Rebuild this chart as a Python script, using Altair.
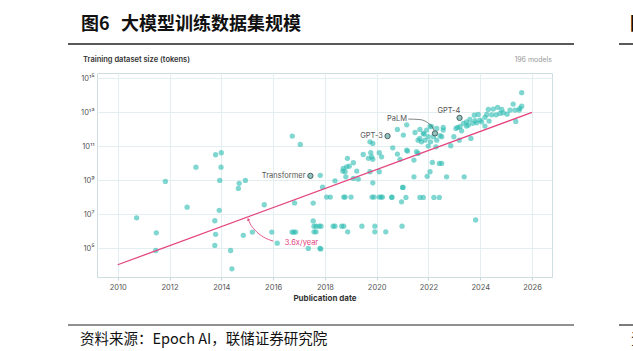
import altair as alt
import pandas as pd

# ---------------- data ----------------
title_num = "图6"
title_text = "大模型训练数据集规模"
source_text = "资料来源：Epoch AI，联储证券研究院"
y_title = "Training dataset size (tokens)"
count_text = "196 models"
x_title = "Publication date"

year_ticks = [2010, 2012, 2014, 2016, 2018, 2020, 2022, 2024, 2026]
exp_ticks = [5, 7, 9, 11, 13, 15]

# publication year (decimal) and log10(training tokens)
model_year = [
    2010.73, 2011.47, 2011.49, 2011.84, 2012.68, 2013.02, 2013.75, 2013.75, 2013.78, 2013.78,
    2013.92, 2013.94, 2013.99, 2014.00, 2014.36, 2014.41, 2014.66, 2014.69, 2014.85, 2014.93,
    2015.20, 2015.66, 2015.95, 2016.16, 2016.73, 2016.80, 2016.87, 2016.74, 2016.83, 2017.05,
    2017.82, 2017.36, 2017.81, 2017.84, 2017.55, 2017.55, 2017.58, 2017.66, 2017.78, 2017.85,
    2017.58, 2017.66, 2017.91, 2018.07, 2018.21, 2018.32, 2018.39, 2018.39, 2018.65, 2018.73,
    2018.73, 2018.78, 2018.69, 2018.78, 2018.84, 2018.81, 2018.87, 2018.88, 2018.94, 2019.01,
    2019.10, 2019.23, 2019.29, 2019.43, 2019.48, 2019.68, 2019.74, 2019.74, 2019.77, 2019.81,
    2019.82, 2019.85, 2019.85, 2019.85, 2019.90, 2019.93, 2019.93, 2020.10, 2020.10, 2020.10,
    2020.17, 2020.22, 2020.19, 2020.35, 2020.58, 2020.62, 2020.80, 2020.80, 2020.90, 2020.96,
    2020.98, 2021.00, 2021.02, 2021.03, 2021.13, 2021.16, 2021.16, 2021.44, 2021.44, 2021.48,
    2021.54, 2021.60, 2021.60, 2021.67, 2021.67, 2021.67, 2021.73, 2021.80, 2021.80, 2021.83,
    2021.87, 2021.93, 2021.95, 2021.99, 2021.99, 2022.06, 2022.06, 2022.08, 2022.12, 2022.15,
    2022.19, 2022.21, 2022.29, 2022.32, 2022.32, 2022.42, 2022.42, 2022.51, 2022.51, 2022.57,
    2022.57, 2022.70, 2022.86, 2022.98, 2023.06, 2023.13, 2023.19, 2023.22, 2023.28, 2023.35,
    2023.38, 2023.47, 2023.47, 2023.54, 2023.60, 2023.64, 2023.71, 2023.77, 2023.80, 2023.82,
    2023.86, 2023.92, 2023.99, 2024.05, 2024.18, 2024.18, 2024.25, 2024.31, 2024.34, 2024.44,
    2024.50, 2024.61, 2024.67, 2024.76, 2024.83, 2024.89, 2025.04, 2025.15, 2025.27, 2025.34,
    2025.37, 2025.50, 2025.53, 2025.60, 2025.60, 2018.71, 2019.10, 2020.59, 2021.19, 2022.45,
]
model_exp = [
    6.78, 4.86, 5.90, 8.92, 7.41, 9.76, 6.61, 5.16, 5.81, 10.49,
    7.22, 8.98, 9.76, 10.61, 4.86, 3.78, 8.51, 8.81, 5.75, 8.98,
    5.94, 7.55, 5.94, 5.29, 5.94, 5.94, 5.94, 11.59, 7.66, 11.10,
    9.28, 4.98, 4.98, 4.95, 7.65, 6.60, 6.29, 6.29, 6.29, 6.29,
    5.96, 5.96, 8.59, 8.00, 8.00, 6.29, 6.29, 8.96, 6.29, 6.29,
    8.00, 8.00, 9.53, 9.49, 9.78, 9.19, 10.28, 5.96, 9.82, 8.00,
    10.02, 9.53, 9.06, 6.29, 10.51, 10.28, 11.25, 9.49, 10.61, 10.37,
    8.00, 11.16, 10.22, 8.84, 8.00, 6.29, 5.96, 10.61, 9.49, 8.00,
    8.00, 8.00, 10.37, 5.96, 7.98, 10.90, 11.98, 10.53, 10.22, 7.72,
    6.29, 8.57, 8.57, 11.65, 7.98, 12.25, 10.76, 10.18, 9.19, 11.80,
    10.67, 11.35, 10.57, 11.98, 11.45, 7.98, 11.25, 11.75, 7.98, 11.71,
    11.35, 11.94, 9.22, 11.55, 11.00, 12.18, 9.49, 11.25, 12.14, 10.04,
    11.55, 7.98, 10.96, 12.04, 11.35, 9.98, 7.98, 9.98, 11.55, 12.10,
    11.94, 9.19, 11.02, 11.55, 12.04, 12.10, 11.35, 12.14, 11.90, 12.34,
    9.19, 12.43, 12.18, 12.24, 12.57, 11.45, 12.34, 12.82, 12.49, 6.66,
    12.37, 12.86, 12.53, 12.43, 12.69, 12.18, 12.86, 13.16, 12.47, 12.84,
    13.18, 12.84, 13.28, 12.92, 13.16, 12.96, 12.88, 13.12, 13.47, 13.12,
    12.45, 13.12, 13.22, 13.35, 14.14, 9.69, 9.10, 8.00, 10.71, 11.62,
]

# highlighted models
hl_name = ["Transformer", "GPT-3", "PaLM", "GPT-4"]
hl_year = [2017.44, 2020.42, 2022.25, 2023.20]
hl_exp = [9.25, 11.59, 11.75, 12.66]
# label anchor positions
lab_year = [2017.25, 2020.24, 2021.17, 2022.79]
lab_exp = [9.25, 11.57, 12.59, 13.08]

# fitted trend (3.6x / year)
trend_year = [2010.0, 2026.0]
trend_exp = [4.02, 12.98]
rate_label = "3.6x/year"
rate_year = [2016.45]
rate_exp = [5.29]

# curved annotation arrow toward the trend line
arrow_year = [2016.01, 2015.62, 2015.30, 2015.11, 2015.04]
arrow_exp = [5.41, 5.66, 6.06, 6.45, 6.69]
# PaLM leader line
palm_year = [2021.22, 2021.67, 2021.99, 2022.17, 2022.22]
palm_exp = [12.59, 12.56, 12.35, 12.06, 11.90]

# ---------------- chart ----------------
W, H = 455, 204
FONT = "Inter"
TEAL = "#2cbab0"
PINK = "#e4457f"

sup = {"0": "⁰", "1": "¹", "2": "²", "3": "³", "4": "⁴",
       "5": "⁵", "6": "⁶", "7": "⁷", "8": "⁸", "9": "⁹"}
expr = "''"
for e in exp_ticks:
    s = "10" + "".join(sup[c] for c in str(e))
    expr = f"datum.value == {e} ? '{s}' : ({expr})"

xs = alt.Scale(domain=[2009.2, 2026.77], nice=False, zero=False)
ys = alt.Scale(domain=[3.3, 15.3], nice=False, zero=False)

xaxis = alt.Axis(values=year_ticks, format="d", title=x_title, grid=True,
                 gridColor="#e3eef0", gridWidth=1, domain=False, tickSize=3,
                 tickColor="#c5d7da", labelFontSize=7.5, labelColor="#555",
                 labelPadding=3, labelFont=FONT, titleFont=FONT, titleFontSize=8,
                 titleFontWeight="bold", titleColor="#333", titlePadding=4)
yaxis = alt.Axis(values=exp_ticks, labelExpr=expr, title=None, grid=True,
                 gridColor="#e3eef0", gridWidth=1, domain=False, ticks=False,
                 labelFontSize=7.5, labelColor="#555", labelPadding=3, labelFont=FONT)


def X(field="year"):
    return alt.X(f"{field}:Q", scale=xs, axis=xaxis)


def Y(field="exp"):
    return alt.Y(f"{field}:Q", scale=ys, axis=yaxis)


pts = pd.DataFrame({"year": model_year, "exp": model_exp})
hl = pd.DataFrame({"year": hl_year, "exp": hl_exp})
labs = pd.DataFrame({"year": lab_year, "exp": lab_exp, "name": hl_name})
trend = pd.DataFrame({"year": trend_year, "exp": trend_exp})
rate = pd.DataFrame({"year": rate_year, "exp": rate_exp, "t": [rate_label]})
arrow = pd.DataFrame({"year": arrow_year, "exp": arrow_exp, "o": list(range(len(arrow_year)))})
palm = pd.DataFrame({"year": palm_year, "exp": palm_exp, "o": list(range(len(palm_year)))})

points = alt.Chart(pts).mark_circle(size=28, color=TEAL, opacity=0.6).encode(x=X(), y=Y())

trend_line = alt.Chart(trend).mark_line(color=PINK, strokeWidth=1.3).encode(x=X(), y=Y())

arrow_line = alt.Chart(arrow).mark_line(color=PINK, strokeWidth=0.9, interpolate="monotone").encode(
    x=X(), y=Y(), order="o:Q")
arrow_head = alt.Chart(arrow.tail(1)).mark_point(shape="triangle-up", filled=True, size=10,
                                                 color=PINK, opacity=1, angle=340).encode(x=X(), y=Y())
rate_text = alt.Chart(rate).mark_text(align="left", baseline="middle", color=PINK, fontSize=7.5,
                                      font=FONT).encode(x=X(), y=Y(), text="t:N")

palm_line = alt.Chart(palm).mark_line(color="#666", strokeWidth=0.8, interpolate="monotone").encode(
    x=X(), y=Y(), order="o:Q")

hl_pts = alt.Chart(hl).mark_point(filled=True, size=28, fill="#8fc3bf", stroke="#4f5f5e",
                                  strokeWidth=1, opacity=1).encode(x=X(), y=Y())

labs_right = alt.Chart(labs[labs["name"] != "GPT-4"]).mark_text(
    align="right", baseline="middle", fontSize=7.5, color="#555", font=FONT).encode(
    x=X(), y=Y(), text="name:N")
labs_center = alt.Chart(labs[labs["name"] == "GPT-4"]).mark_text(
    align="center", baseline="middle", fontSize=7.5, color="#555", font=FONT).encode(
    x=X(), y=Y(), text="name:N")

# decorations around the plot (pixel positions relative to plot origin)
deco = pd.DataFrame({"a": [0]})
ytitle_t = alt.Chart(deco).mark_text(align="left", baseline="middle", fontSize=7.5, fontWeight=600,
                                     color="#333", font=FONT, text=y_title).encode(
    x=alt.value(-14), y=alt.value(-13))
count_t = alt.Chart(deco).mark_text(align="right", baseline="middle", fontSize=7, color="#9a9a9a",
                                    font=FONT, text=count_text).encode(
    x=alt.value(W), y=alt.value(-13))
title_a = alt.Chart(deco).mark_text(align="left", baseline="middle", fontSize=18, fontWeight="bold",
                                    color="#111", font="Noto Sans CJK SC", text=title_num).encode(
    x=alt.value(-16), y=alt.value(-48))
title_b = alt.Chart(deco).mark_text(align="left", baseline="middle", fontSize=18, fontWeight="bold",
                                    color="#111", font="Noto Sans CJK SC", text=title_text).encode(
    x=alt.value(24), y=alt.value(-48))
title_frag = alt.Chart(deco).mark_text(align="left", baseline="middle", fontSize=18, fontWeight="bold",
                                       color="#111", font="Noto Sans CJK SC", text="图").encode(
    x=alt.value(533), y=alt.value(-48))
top_rule = alt.Chart(deco).mark_rule(color="#222", strokeWidth=1.5).encode(
    x=alt.value(-29), x2=alt.value(477), y=alt.value(-29))
top_rule2 = alt.Chart(deco).mark_rule(color="#222", strokeWidth=1.5).encode(
    x=alt.value(522), x2=alt.value(540), y=alt.value(-29))
bot_rule = alt.Chart(deco).mark_rule(color="#222", strokeWidth=1.2).encode(
    x=alt.value(-29), x2=alt.value(477), y=alt.value(252))
bot_rule2 = alt.Chart(deco).mark_rule(color="#222", strokeWidth=1.2).encode(
    x=alt.value(522), x2=alt.value(540), y=alt.value(252))
source_t = alt.Chart(deco).mark_text(align="left", baseline="middle", fontSize=14.5, color="#111",
                                     font="Noto Sans CJK SC", text=source_text).encode(
    x=alt.value(-17), y=alt.value(267))
source_frag = alt.Chart(deco).mark_text(align="left", baseline="middle", fontSize=14.5, color="#111",
                                        font="Noto Sans CJK SC", text="资").encode(
    x=alt.value(534), y=alt.value(267))

chart = alt.layer(
    points, trend_line, arrow_line, arrow_head, rate_text, palm_line, hl_pts,
    labs_right, labs_center, ytitle_t, count_t, title_a, title_b, title_frag,
    top_rule, top_rule2, bot_rule, bot_rule2, source_t, source_frag,
).properties(
    width=W, height=H,
    padding={"left": 97, "top": 73, "right": 81, "bottom": 74},
    autosize=alt.AutoSizeParams(type="none"),
    background="white",
).configure_view(stroke="#cddde0", strokeWidth=1)

chart.save("out.html", embed_options={"renderer": "svg", "actions": False})
